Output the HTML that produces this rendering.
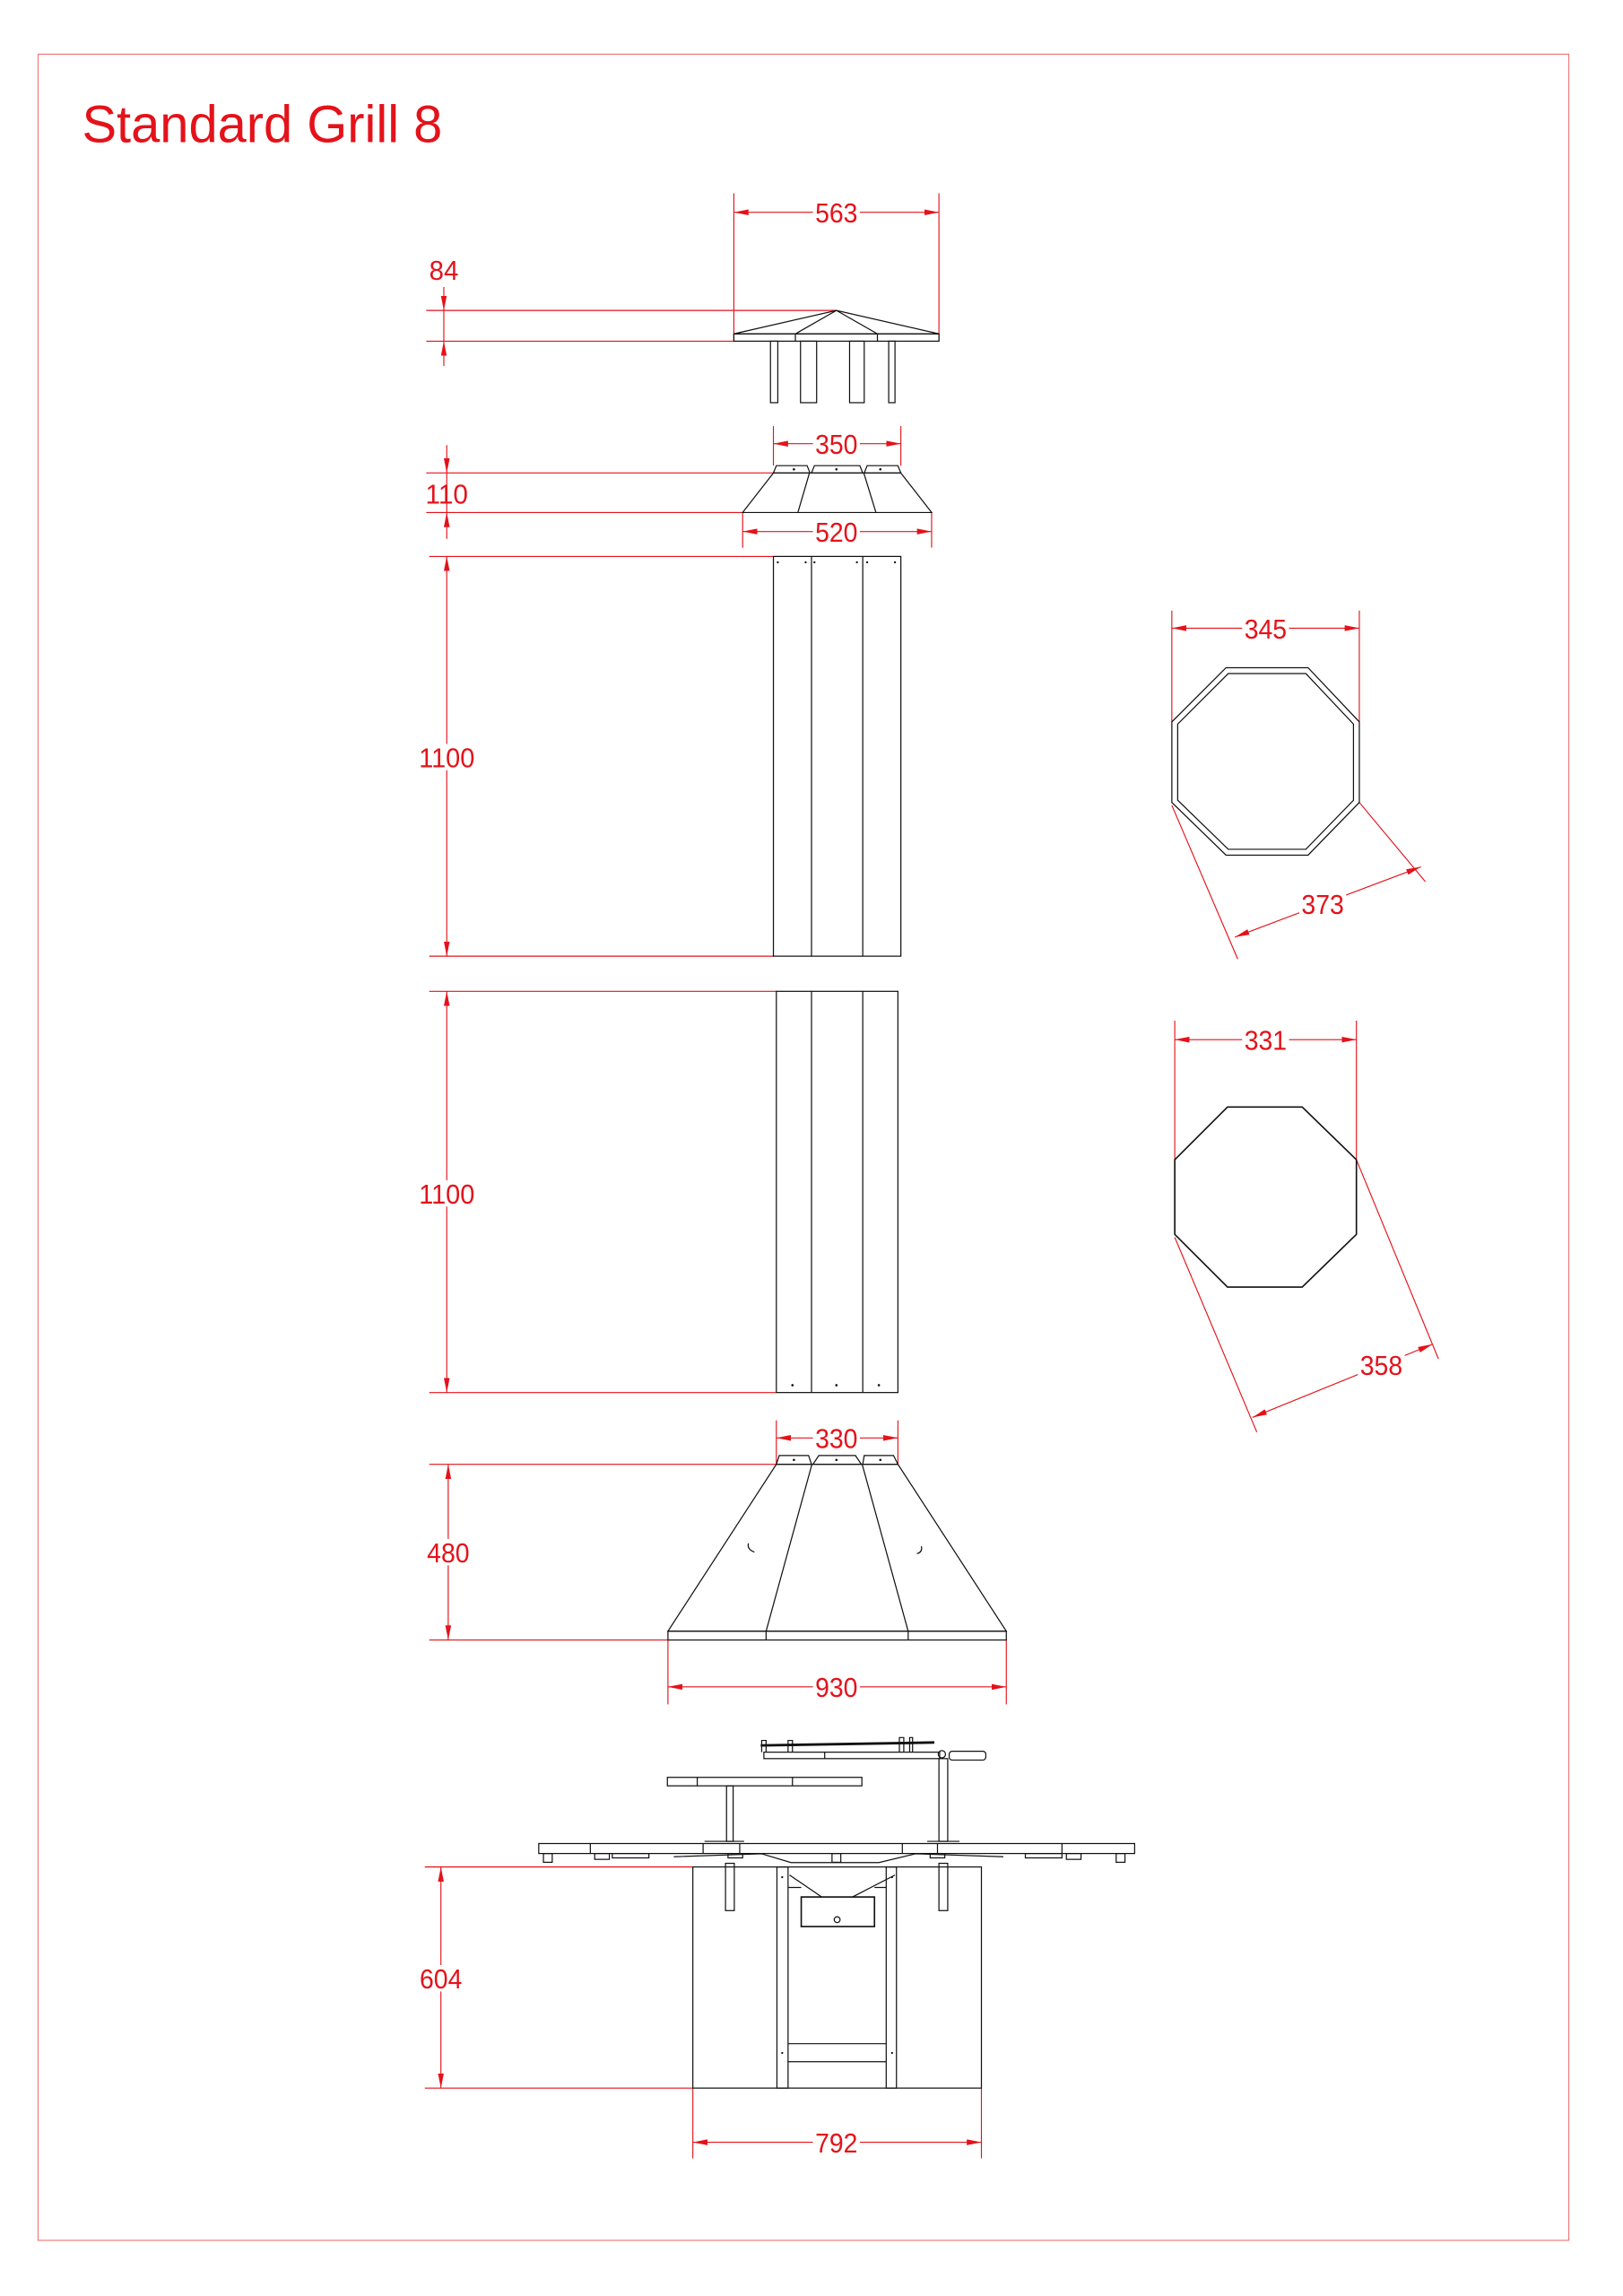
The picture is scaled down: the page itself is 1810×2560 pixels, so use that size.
<!DOCTYPE html>
<html><head><meta charset="utf-8"><style>html,body{margin:0;padding:0;background:#fff}svg{display:block}</style></head>
<body>
<svg width="1810" height="2560" viewBox="0 0 1108 1568" preserveAspectRatio="none" xmlns="http://www.w3.org/2000/svg">
<defs>
<marker id="a" viewBox="0 0 10 4" refX="10" refY="2" markerWidth="10" markerHeight="4" orient="auto-start-reverse" markerUnits="userSpaceOnUse"><path d="M0,0L10,2L0,4z" fill="#e4121a"/></marker>
</defs>
<rect x="26" y="37" width="1045" height="1493" fill="none" stroke="#e77" stroke-width="0.7"/>
<text x="56" y="97" font-family="Liberation Sans, sans-serif" font-size="36" fill="#e4121a" textLength="246" lengthAdjust="spacingAndGlyphs">Standard Grill 8</text>

<g stroke="#e4121a" stroke-width="0.7" fill="none">
<line x1="501" y1="132" x2="501" y2="233"/><line x1="641" y1="132" x2="641" y2="233"/>
<line x1="501" y1="145" x2="641" y2="145" marker-start="url(#a)" marker-end="url(#a)"/>
<line x1="291" y1="212" x2="571" y2="212"/><line x1="291" y1="233" x2="501" y2="233"/>
<line x1="303" y1="196" x2="303" y2="212" marker-end="url(#a)"/><line x1="303" y1="250" x2="303" y2="233" marker-end="url(#a)"/><line x1="303" y1="212" x2="303" y2="233"/>
<line x1="528" y1="291" x2="528" y2="318"/><line x1="615" y1="291" x2="615" y2="318"/>
<line x1="528" y1="303" x2="615" y2="303" marker-start="url(#a)" marker-end="url(#a)"/>
<line x1="291" y1="323" x2="528" y2="323"/><line x1="291" y1="350" x2="507" y2="350"/>
<line x1="305" y1="304" x2="305" y2="323" marker-end="url(#a)"/><line x1="305" y1="368" x2="305" y2="350" marker-end="url(#a)"/><line x1="305" y1="323" x2="305" y2="350"/>
<line x1="507" y1="350" x2="507" y2="374"/><line x1="636" y1="350" x2="636" y2="374"/>
<line x1="507" y1="363" x2="636" y2="363" marker-start="url(#a)" marker-end="url(#a)"/>
<line x1="293" y1="380" x2="528" y2="380"/><line x1="293" y1="653" x2="528" y2="653"/>
<line x1="305" y1="380" x2="305" y2="653" marker-start="url(#a)" marker-end="url(#a)"/>
<line x1="293" y1="677" x2="530" y2="677"/><line x1="293" y1="951" x2="530" y2="951"/>
<line x1="305" y1="677" x2="305" y2="951" marker-start="url(#a)" marker-end="url(#a)"/>
<line x1="800" y1="417" x2="800" y2="493"/><line x1="928" y1="417" x2="928" y2="493"/>
<line x1="800" y1="429" x2="928" y2="429" marker-start="url(#a)" marker-end="url(#a)"/>
<line x1="800" y1="550" x2="845" y2="655"/><line x1="928" y1="548" x2="973" y2="602"/>
<line x1="843" y1="640" x2="970" y2="592" marker-start="url(#a)" marker-end="url(#a)"/>
<line x1="802" y1="697" x2="802" y2="792"/><line x1="926" y1="697" x2="926" y2="792"/>
<line x1="802" y1="710" x2="926" y2="710" marker-start="url(#a)" marker-end="url(#a)"/>
<line x1="802" y1="845" x2="858" y2="978"/><line x1="926" y1="792" x2="982" y2="928"/>
<line x1="855" y1="968" x2="978" y2="918" marker-start="url(#a)" marker-end="url(#a)"/>
<line x1="530" y1="970" x2="530" y2="1000"/><line x1="613" y1="970" x2="613" y2="1000"/>
<line x1="530" y1="982" x2="613" y2="982" marker-start="url(#a)" marker-end="url(#a)"/>
<line x1="293" y1="1000" x2="530" y2="1000"/><line x1="293" y1="1120" x2="456" y2="1120"/>
<line x1="306" y1="1000" x2="306" y2="1120" marker-start="url(#a)" marker-end="url(#a)"/>
<line x1="456" y1="1120" x2="456" y2="1164"/><line x1="687" y1="1120" x2="687" y2="1164"/>
<line x1="456" y1="1152" x2="687" y2="1152" marker-start="url(#a)" marker-end="url(#a)"/>
<line x1="290" y1="1275" x2="473" y2="1275"/><line x1="290" y1="1426" x2="473" y2="1426"/>
<line x1="301" y1="1275" x2="301" y2="1426" marker-start="url(#a)" marker-end="url(#a)"/>
<line x1="473" y1="1426" x2="473" y2="1474"/><line x1="670" y1="1426" x2="670" y2="1474"/>
<line x1="473" y1="1463" x2="670" y2="1463" marker-start="url(#a)" marker-end="url(#a)"/>
</g>

<g fill="#fff">
<rect x="555" y="136" width="32" height="18"/><rect x="555" y="294" width="32" height="18"/><rect x="555" y="354" width="32" height="18"/>
<rect x="285" y="508" width="40" height="18"/><rect x="285" y="806" width="40" height="18"/>
<rect x="848" y="420" width="32" height="18"/><rect x="887" y="608" width="32" height="18"/>
<rect x="848" y="701" width="32" height="18"/><rect x="927" y="923" width="32" height="18"/>
<rect x="555" y="973" width="32" height="18"/><rect x="290" y="1051" width="32" height="18"/>
<rect x="555" y="1143" width="32" height="18"/><rect x="285" y="1342" width="32" height="18"/>
<rect x="555" y="1454" width="32" height="18"/>
</g>
<g font-family="Liberation Sans, sans-serif" font-size="19" fill="#e4121a" text-anchor="middle">
<text x="571" y="152" textLength="29" lengthAdjust="spacingAndGlyphs">563</text>
<text x="303" y="191" textLength="20" lengthAdjust="spacingAndGlyphs">84</text>
<text x="571" y="310" textLength="29" lengthAdjust="spacingAndGlyphs">350</text>
<text x="305" y="344" textLength="29" lengthAdjust="spacingAndGlyphs">110</text>
<text x="571" y="370" textLength="29" lengthAdjust="spacingAndGlyphs">520</text>
<text x="305" y="524" textLength="38" lengthAdjust="spacingAndGlyphs">1100</text>
<text x="305" y="822" textLength="38" lengthAdjust="spacingAndGlyphs">1100</text>
<text x="864" y="436" textLength="29" lengthAdjust="spacingAndGlyphs">345</text>
<text x="903" y="624" textLength="29" lengthAdjust="spacingAndGlyphs">373</text>
<text x="864" y="717" textLength="29" lengthAdjust="spacingAndGlyphs">331</text>
<text x="943" y="939" textLength="29" lengthAdjust="spacingAndGlyphs">358</text>
<text x="571" y="989" textLength="29" lengthAdjust="spacingAndGlyphs">330</text>
<text x="306" y="1067" textLength="29" lengthAdjust="spacingAndGlyphs">480</text>
<text x="571" y="1159" textLength="29" lengthAdjust="spacingAndGlyphs">930</text>
<text x="301" y="1358" textLength="29" lengthAdjust="spacingAndGlyphs">604</text>
<text x="571" y="1470" textLength="29" lengthAdjust="spacingAndGlyphs">792</text>
</g>

<g stroke="#111" stroke-width="0.75" fill="none">
<polygon points="501,228 571,212 641,228"/>
<rect x="501" y="228" width="140" height="5"/>
<line x1="571" y1="212" x2="543" y2="228"/><line x1="571" y1="212" x2="599" y2="228"/>
<line x1="543" y1="228" x2="543" y2="233"/><line x1="599" y1="228" x2="599" y2="233"/>
<rect x="526" y="233" width="5" height="42"/><rect x="546.5" y="233" width="11" height="42"/>
<rect x="580" y="233" width="10" height="42"/><rect x="606.7" y="233" width="4.3" height="42"/>
<polygon points="530,318 551,318 553,323 528,323"/>
<polygon points="556,318 587,318 589,323 554,323"/>
<polygon points="592,318 613,318 615,323 590,323"/>
<polygon points="528,323 615,323 636,350 507,350"/>
<line x1="552.6" y1="323" x2="544.7" y2="350"/><line x1="589.7" y1="323" x2="598" y2="350"/>
<rect x="528" y="380" width="87" height="273"/><line x1="554" y1="380" x2="554" y2="653"/><line x1="589" y1="380" x2="589" y2="653"/>
<rect x="530" y="677" width="83" height="274"/><line x1="554" y1="677" x2="554" y2="951"/><line x1="589" y1="677" x2="589" y2="951"/>
<polygon points="837,456 893,456 928,493 928,548 893,584 837,584 800,548 800,493"/>
<polygon points="838.5,460 891.5,460 924,494.5 924,546.5 891.5,580 838.5,580 804,546.5 804,494.5"/>
<polygon points="838,756 889,756 926,792 926,843 889,879 838,879 802,843 802,792" stroke-width="1"/>
<polygon points="532,994 552,994 554,1000 530,1000"/>
<polygon points="559,994 584,994 588,1000 555,1000"/>
<polygon points="590,994 610,994 613,1000 589,1000"/>
<polygon points="530,1000 613,1000 687,1114 456,1114"/>
<line x1="554.3" y1="1000" x2="523" y2="1114"/><line x1="588.6" y1="1000" x2="620" y2="1114"/>
<rect x="456" y="1114" width="231" height="6"/><line x1="523" y1="1114" x2="523" y2="1120"/><line x1="620" y1="1114" x2="620" y2="1120"/>
<path d="M511,1054 q-1,3 2,5 l2,1 M626,1061 q4,-1 3,-5"/>
<rect x="367.8" y="1259" width="406.8" height="6.8"/>
<line x1="403" y1="1259" x2="403" y2="1265.8"/><line x1="480" y1="1259" x2="480" y2="1265.8"/>
<line x1="640" y1="1259" x2="640" y2="1265.8"/><line x1="725" y1="1259" x2="725" y2="1265.8"/>
<line x1="505" y1="1259" x2="505" y2="1265.8"/><line x1="616" y1="1259" x2="616" y2="1265.8"/>
<rect x="371" y="1265.8" width="6" height="6"/><rect x="406" y="1265.8" width="10" height="4"/><rect x="418" y="1265.8" width="25" height="3"/>
<rect x="700" y="1265.8" width="25" height="3"/><rect x="728" y="1265.8" width="10" height="4"/><rect x="762" y="1265.8" width="6" height="6"/>
<rect x="497" y="1265.8" width="10" height="3"/><rect x="635" y="1265.8" width="10" height="3"/>
<path d="M460,1268 L520,1266 L540,1272 L600,1272 L625,1266 L685,1268"/>
<rect x="568" y="1265.8" width="6" height="6"/>
<rect x="473" y="1275" width="197" height="151"/>
<rect x="530.4" y="1275" width="7.6" height="151"/><rect x="605" y="1275" width="7" height="151"/>
<line x1="538" y1="1395.7" x2="605" y2="1395.7"/><line x1="538" y1="1408" x2="605" y2="1408"/>
<rect x="547" y="1295.5" width="50" height="20.2" stroke-width="1"/>
<circle cx="571.5" cy="1311" r="2"/>
<line x1="539" y1="1280.5" x2="561" y2="1295.5"/><line x1="611" y1="1280.5" x2="582" y2="1295.5"/>
<line x1="538" y1="1289" x2="547" y2="1289"/><line x1="597" y1="1289" x2="605" y2="1289"/>
<rect x="495.3" y="1272.5" width="6" height="32.3"/><rect x="641" y="1272.5" width="6" height="32.3"/>
<rect x="455.6" y="1213.8" width="132.8" height="5.8"/><line x1="476" y1="1213.8" x2="476" y2="1219.6"/><line x1="541" y1="1213.8" x2="541" y2="1219.6"/>
<rect x="496" y="1219.6" width="4.5" height="37.9"/><line x1="481" y1="1257.5" x2="508" y2="1257.5"/>
<rect x="641" y="1201" width="6" height="56.5"/><line x1="633" y1="1257.5" x2="655" y2="1257.5"/>
<rect x="521.5" y="1196.6" width="120" height="4.4"/><line x1="563" y1="1196.6" x2="563" y2="1201"/>
<rect x="648" y="1196" width="25" height="6" rx="2"/>
<polygon points="519.7,1191.5 637.5,1189.5 637.5,1190.5 519.7,1192.5" fill="#111"/>
<path d="M520,1196.6 v-8 h3 v8 M538,1196.6 v-8 h3 v8 M614,1196.6 v-10 h3 v10 M621,1196.6 v-10 h2 v10"/>
<circle cx="643" cy="1198" r="2.5"/>
</g>
<g fill="#111">
<circle cx="531" cy="384" r="0.7"/><circle cx="550" cy="384" r="0.7"/><circle cx="556" cy="384" r="0.7"/><circle cx="585" cy="384" r="0.7"/><circle cx="592" cy="384" r="0.7"/><circle cx="611" cy="384" r="0.7"/>
<circle cx="541" cy="946" r="0.8"/><circle cx="571" cy="946" r="0.8"/><circle cx="600" cy="946" r="0.8"/>
<circle cx="542" cy="320.5" r="0.8"/><circle cx="571" cy="320.5" r="0.8"/><circle cx="601" cy="320.5" r="0.8"/>
<circle cx="542" cy="997" r="0.8"/><circle cx="571" cy="997" r="0.8"/><circle cx="601" cy="997" r="0.8"/>
<circle cx="534" cy="1282" r="0.7"/><circle cx="609" cy="1282" r="0.7"/><circle cx="534" cy="1402" r="0.7"/><circle cx="609" cy="1402" r="0.7"/>
</g>
</svg>
</body></html>
